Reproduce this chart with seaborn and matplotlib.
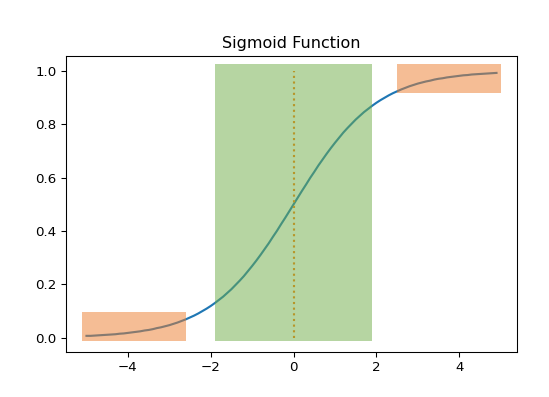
import numpy as np
import matplotlib
matplotlib.use("Agg")
import matplotlib.pyplot as plt
from matplotlib.patches import Rectangle
import seaborn as sns

# sigmoid curve, values
x_vals = [-5.0, -4.9, -4.8, -4.7, -4.6, -4.5, -4.4, -4.3, -4.2, -4.1,
          -4.0, -3.9, -3.8, -3.7, -3.6, -3.5, -3.4, -3.3, -3.2, -3.1,
          -3.0, -2.9, -2.8, -2.7, -2.6, -2.5, -2.4, -2.3, -2.2, -2.1,
          -2.0, -1.9, -1.8, -1.7, -1.6, -1.5, -1.4, -1.3, -1.2, -1.1,
          -1.0, -0.9, -0.8, -0.7, -0.6, -0.5, -0.4, -0.3, -0.2, -0.1,
          0.0, 0.1, 0.2, 0.3, 0.4, 0.5, 0.6, 0.7, 0.8, 0.9,
          1.0, 1.1, 1.2, 1.3, 1.4, 1.5, 1.6, 1.7, 1.8, 1.9,
          2.0, 2.1, 2.2, 2.3, 2.4, 2.5, 2.6, 2.7, 2.8, 2.9,
          3.0, 3.1, 3.2, 3.3, 3.4, 3.5, 3.6, 3.7, 3.8, 3.9,
          4.0, 4.1, 4.2, 4.3, 4.4, 4.5, 4.6, 4.7, 4.8, 4.9]
y_vals = [0.007, 0.007, 0.008, 0.009, 0.010, 0.011, 0.012, 0.013, 0.015, 0.016,
          0.018, 0.020, 0.022, 0.024, 0.027, 0.029, 0.032, 0.036, 0.039, 0.043,
          0.047, 0.052, 0.057, 0.063, 0.069, 0.076, 0.083, 0.091, 0.100, 0.109,
          0.119, 0.130, 0.142, 0.154, 0.168, 0.182, 0.198, 0.214, 0.231, 0.250,
          0.269, 0.289, 0.310, 0.332, 0.354, 0.378, 0.401, 0.426, 0.450, 0.475,
          0.500, 0.525, 0.550, 0.574, 0.599, 0.622, 0.646, 0.668, 0.690, 0.711,
          0.731, 0.750, 0.769, 0.786, 0.802, 0.818, 0.832, 0.846, 0.858, 0.870,
          0.881, 0.891, 0.900, 0.909, 0.917, 0.924, 0.931, 0.937, 0.943, 0.948,
          0.953, 0.957, 0.961, 0.964, 0.968, 0.971, 0.973, 0.976, 0.978, 0.980,
          0.982, 0.984, 0.985, 0.987, 0.988, 0.989, 0.990, 0.991, 0.992, 0.993]

# midpoint marker
mid_x = [0.0, 0.0]
mid_y = [0.0, 1.0]

# highlighted regions: (x0, y0, width, height)
linear_region = (-1.9, -0.012, 3.8, 1.04)
saturated_regions = [(-5.1, -0.012, 2.5, 0.11),
                     (2.5, 0.918, 2.5, 0.11)]

dpi = 96
fig = plt.figure(figsize=(549 / dpi, 397 / dpi), dpi=dpi)
ax = fig.add_axes([0.1202, 0.1141, 0.8215, 0.7449])

sns.lineplot(x=x_vals, y=y_vals, ax=ax, color="C0", linewidth=1.6)
ax.plot(mid_x, mid_y, ":", color="C1", linewidth=1.6)

x0, y0, w, h = linear_region
ax.add_patch(Rectangle((x0, y0), w, h, facecolor="#6fad47", alpha=0.5,
                       edgecolor="none", zorder=3))
for x0, y0, w, h in saturated_regions:
    ax.add_patch(Rectangle((x0, y0), w, h, facecolor="#ed7d2d", alpha=0.5,
                           edgecolor="none", zorder=3))

ax.set_xlim(-5.495, 5.395)
ax.set_ylim(-0.0525, 1.0565)
ax.set_title("Sigmoid Function")

fig.savefig("out.png", dpi=dpi)
